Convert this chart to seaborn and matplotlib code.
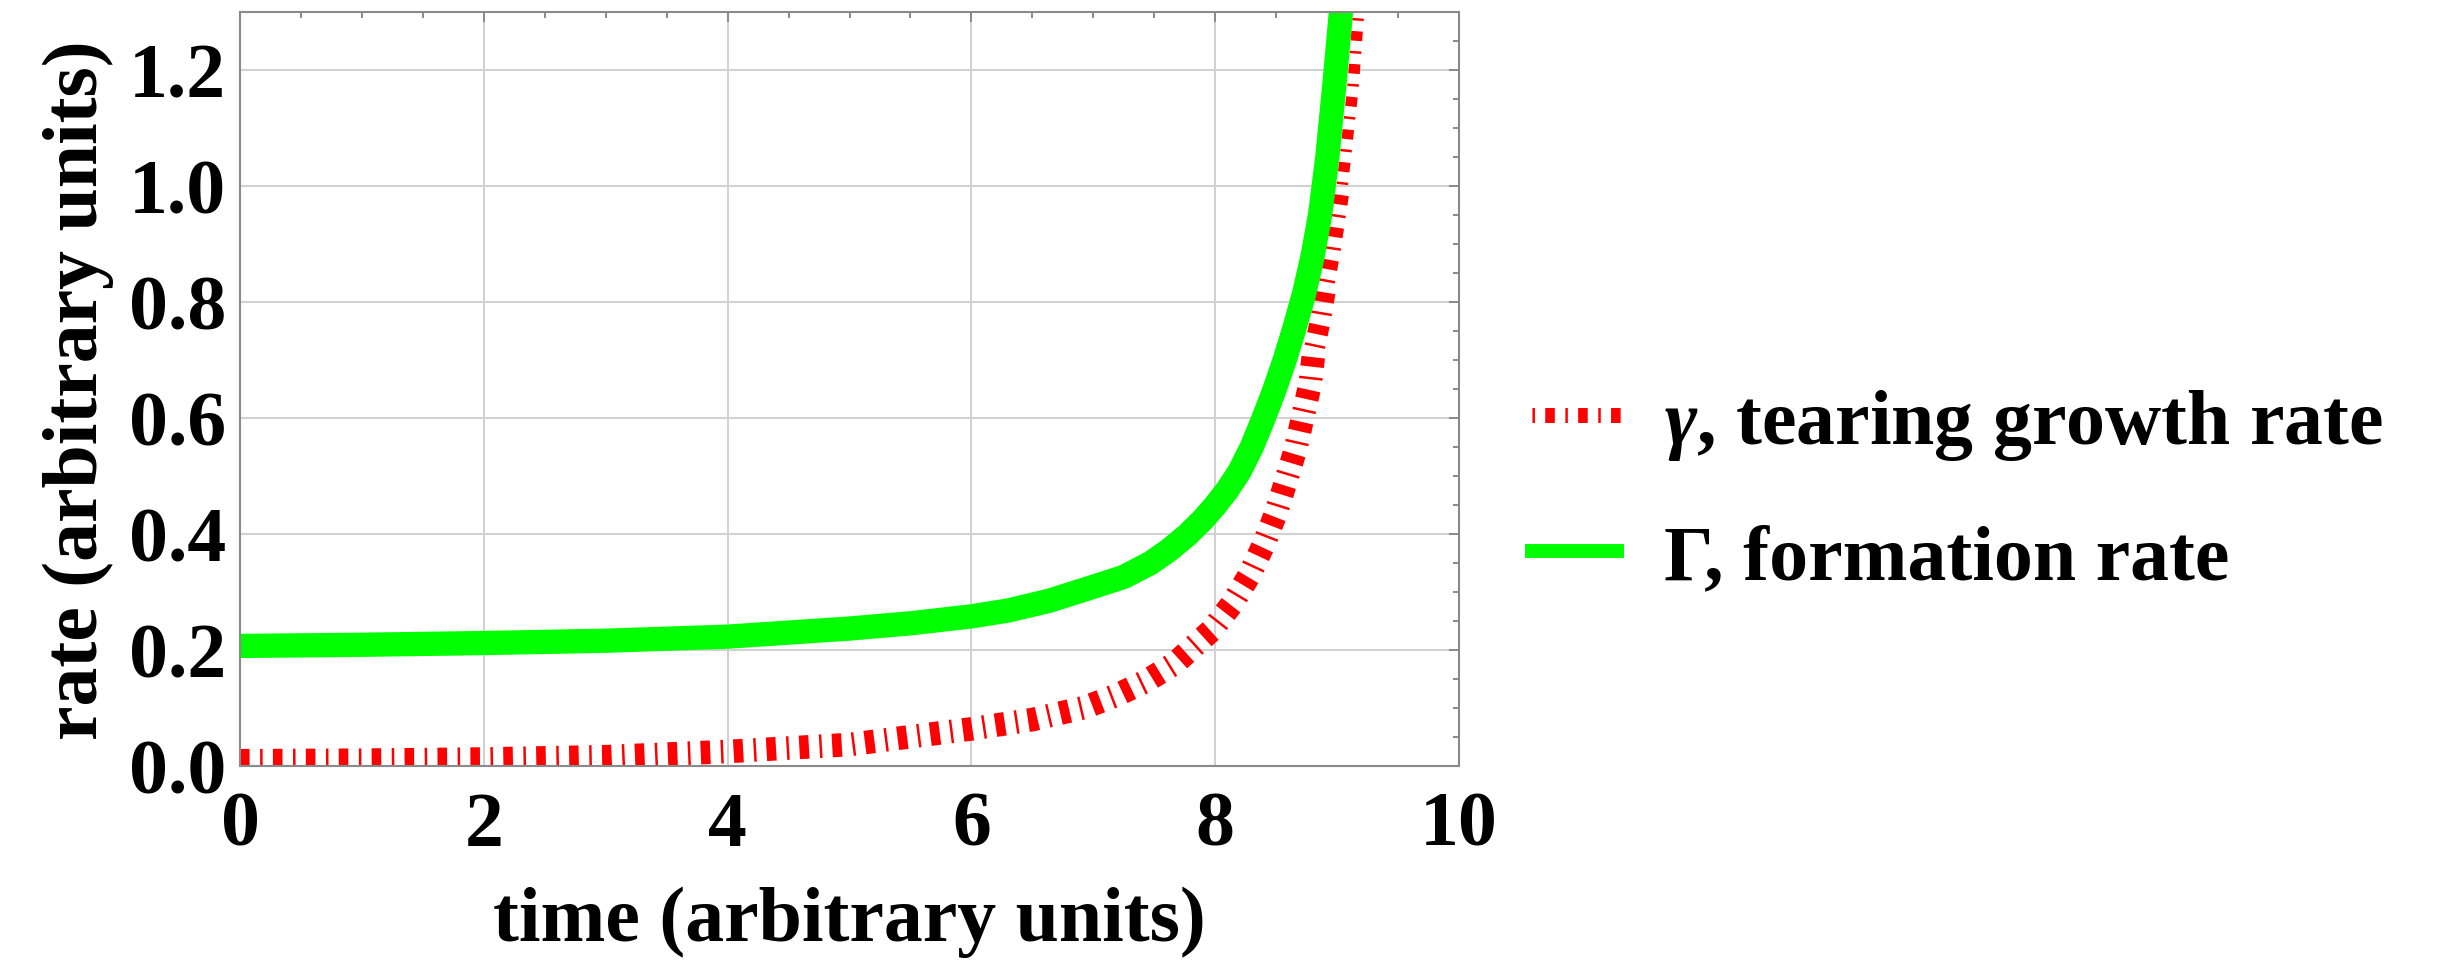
import matplotlib
matplotlib.use("Agg")
import numpy as np
import pandas as pd
import matplotlib.pyplot as plt
import seaborn as sns
from matplotlib.ticker import MultipleLocator, FormatStrFormatter

# ---- data ----
time_gamma = [0, 1, 2, 3, 4, 5, 6, 6.5, 6.93, 7.19, 7.43, 7.67, 7.97, 8.14,
              8.28, 8.40, 8.50, 8.58, 8.66, 8.72, 8.78, 8.81, 8.865, 8.91,
              8.96, 9.0, 9.04, 9.07, 9.10, 9.13, 9.15, 9.17, 9.18]
rate_gamma = [0.009, 0.010, 0.012, 0.016, 0.025, 0.037, 0.064, 0.080, 0.101,
              0.122, 0.146, 0.177, 0.234, 0.280, 0.329, 0.383, 0.437, 0.491,
              0.547, 0.603, 0.660, 0.716, 0.771, 0.827, 0.884, 0.940, 0.997,
              1.054, 1.112, 1.169, 1.226, 1.284, 1.31]

time_Gamma = [0, 1, 2, 3, 4, 5, 5.5, 6, 6.3, 6.64, 7.0, 7.25, 7.47, 7.62,
              7.77, 7.9, 8.0, 8.1, 8.2, 8.3, 8.39, 8.48, 8.57, 8.65, 8.73,
              8.80, 8.86, 8.92, 8.98, 9.04]
rate_Gamma = [0.207, 0.209, 0.212, 0.216, 0.223, 0.237, 0.246, 0.258, 0.268,
              0.285, 0.309, 0.326, 0.350, 0.372, 0.398, 0.425, 0.449, 0.476,
              0.508, 0.550, 0.596, 0.645, 0.700, 0.755, 0.815, 0.880, 0.950,
              1.050, 1.180, 1.320]

labels = [r"$\gamma$, tearing growth rate", "Γ, formation rate"]
x_label = "time (arbitrary units)"
y_label = "rate (arbitrary units)"

# ---- style ----
sns.set_theme(style="white")
plt.rcParams['font.family'] = ['Liberation Serif', 'DejaVu Serif']
plt.rcParams['font.weight'] = 'bold'
plt.rcParams['mathtext.fontset'] = 'custom'
plt.rcParams['mathtext.it'] = 'Liberation Serif:italic:bold'
plt.rcParams['mathtext.rm'] = 'Liberation Serif:bold'
plt.rcParams['mathtext.bf'] = 'Liberation Serif:bold'
plt.rcParams['lines.scale_dashes'] = False
plt.rcParams['text.color'] = 'black'
plt.rcParams['axes.labelcolor'] = 'black'
plt.rcParams['xtick.labelcolor'] = 'black'
plt.rcParams['ytick.labelcolor'] = 'black'

FS = 56
DASH = [6.9, 7.6, 1.8, 7.4]          # thick, gap, thin, gap (points)
PERIOD = sum(DASH)

fig = plt.figure(figsize=(24.39, 9.62), dpi=100)
ax = fig.add_axes([240/2439, 1-767/962, 1219/2439, 754/962])
ax.set_xlim(0, 10)
ax.set_ylim(0, 1.3)

df_g = pd.DataFrame({"time": time_gamma, "rate": rate_gamma})
df_G = pd.DataFrame({"time": time_Gamma, "rate": rate_Gamma})

# red dash-dot curve: stroke gets thinner where the curve turns vertical
pix = ax.transData.transform(df_g[["time", "rate"]].to_numpy())
seglen = np.hypot(*np.diff(pix, axis=0).T) * 72 / fig.dpi
arclen = np.concatenate([[0], np.cumsum(seglen)])
pieces = [(0.0, 8.81, 17.0), (8.81, 8.91, 15.0), (8.91, 9.04, 11.5),
          (9.04, 10.0, 8.3)]
red_lines = []
for lo, hi, lw in pieces:
    mask = (df_g["time"] >= lo) & (df_g["time"] <= hi)
    sub = df_g[mask]
    sns.lineplot(data=sub, x="time", y="rate", ax=ax, color="#FF0000",
                 linewidth=lw, legend=False, sort=False)
    ln = ax.lines[-1]
    start = arclen[np.argmax(mask.to_numpy())]
    ln.set_linestyle((start % PERIOD, DASH))
    ln.set_dash_capstyle('butt')
    red_lines.append(ln)

sns.lineplot(data=df_G, x="time", y="rate", ax=ax, color="#00FF00",
             linewidth=17.5, legend=False)
line_green = ax.lines[-1]
line_green.set_solid_capstyle('butt')
line_green.set_solid_joinstyle('round')

ax.set_xlim(0, 10)
ax.set_ylim(0, 1.3)
ax.xaxis.set_major_locator(MultipleLocator(2))
ax.xaxis.set_minor_locator(MultipleLocator(0.5))
ax.yaxis.set_major_locator(MultipleLocator(0.2))
ax.yaxis.set_minor_locator(MultipleLocator(0.05))
ax.xaxis.set_major_formatter(FormatStrFormatter('%d'))
ax.yaxis.set_major_formatter(FormatStrFormatter('%.1f'))

ax.grid(True, which='major', color='#d0d0d0', linewidth=1.4)
ax.set_axisbelow(True)
for sp in ax.spines.values():
    sp.set_color('#8a8a8a')
    sp.set_linewidth(1.5)

ax.tick_params(which='both', direction='in', top=True, right=True,
               color='#8a8a8a', width=1.4, labelcolor='black')
ax.tick_params(which='major', length=7.5, labelsize=FS)
ax.tick_params(which='minor', length=4)
ax.tick_params(axis='x', which='major', pad=18)
ax.tick_params(axis='y', which='major', pad=10)
for lab in ax.get_xticklabels() + ax.get_yticklabels():
    lab.set_fontweight('bold')

ax.set_xlabel(x_label, fontsize=FS, fontweight='bold', color='black')
ax.set_ylabel(y_label, fontsize=FS, fontweight='bold', color='black')
ax.xaxis.set_label_coords(0.5, (767-887)/754)
ax.yaxis.set_label_coords((114-240)/1219, 0.5)

leg = ax.legend(handles=[red_lines[0], line_green], labels=labels,
                loc='center left', bbox_to_anchor=(1525/2439, 1-492/962),
                bbox_transform=fig.transFigure, frameon=False,
                fontsize=FS, handlelength=1.27, handletextpad=0.52,
                labelspacing=0.8, borderpad=0, borderaxespad=0)
for t in leg.get_texts():
    t.set_fontweight('bold')
    t.set_color('black')
lls = leg.get_lines()
lls[0].set_linewidth(10.8)
lls[0].set_linestyle((9.5, DASH))
lls[1].set_linewidth(10.0)

fig.savefig("out.png", dpi=100)
